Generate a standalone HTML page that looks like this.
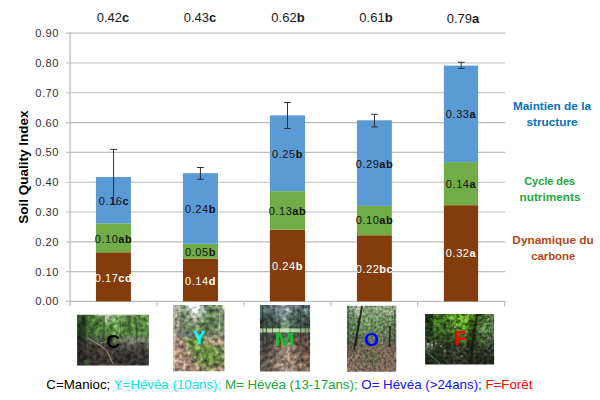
<!DOCTYPE html>
<html><head><meta charset="utf-8">
<style>
html,body{margin:0;padding:0;background:#fff;width:600px;height:400px;overflow:hidden}
svg{display:block}
text{font-family:"Liberation Sans",Arial,sans-serif}
.tk{font-size:11.2px;fill:#333;text-anchor:end;letter-spacing:0.45px}
.top{font-size:13px;fill:#1a1a1a;text-anchor:middle}
.in{font-size:11px;fill:#111;text-anchor:middle;letter-spacing:0.55px}
.inw{font-size:11px;fill:#fff;text-anchor:middle;letter-spacing:0.55px}
.b{font-weight:bold}
.rl{font-size:11.8px;font-weight:bold;text-anchor:middle}
.lg{font-size:13.3px}
</style></head><body>
<svg width="600" height="400" viewBox="0 0 600 400">
<defs>
  <filter id="pd" x="-10%" y="-10%" width="120%" height="120%"><feGaussianBlur stdDeviation="0.45"/></filter>
  <linearGradient id="mband" x1="0" x2="1" y1="0" y2="0"><stop offset="0" stop-color="#a8d0a0"/><stop offset="0.55" stop-color="#c4e4b8"/><stop offset="0.75" stop-color="#a0c898"/><stop offset="1" stop-color="#7a9c7a"/></linearGradient>
  <filter id="mb" x="-10%" y="-50%" width="120%" height="200%"><feGaussianBlur stdDeviation="0.7"/></filter>
<filter id="fC" x="0" y="0" width="100%" height="100%" color-interpolation-filters="sRGB">
  <feGaussianBlur in="SourceGraphic" stdDeviation="1.6" result="base"/>
  <feTurbulence type="fractalNoise" baseFrequency="0.22" numOctaves="2" seed="5" result="n"/>
  <feColorMatrix in="n" type="matrix" values="1 0 0 0 0  1 0 0 0 0  1 0 0 0 0  0 0 0 0 1" result="g"/>
  <feComposite in="base" in2="g" operator="arithmetic" k1="1.5" k2="0.25" k3="0" k4="0"/>
  <feGaussianBlur stdDeviation="0.55"/>
</filter>
<filter id="fY" x="0" y="0" width="100%" height="100%" color-interpolation-filters="sRGB">
  <feGaussianBlur in="SourceGraphic" stdDeviation="1.6" result="base"/>
  <feTurbulence type="fractalNoise" baseFrequency="0.22" numOctaves="2" seed="8" result="n"/>
  <feColorMatrix in="n" type="matrix" values="1 0 0 0 0  1 0 0 0 0  1 0 0 0 0  0 0 0 0 1" result="g"/>
  <feComposite in="base" in2="g" operator="arithmetic" k1="1.6" k2="0.19999999999999996" k3="0" k4="0"/>
  <feGaussianBlur stdDeviation="0.55"/>
</filter>
<filter id="fM" x="0" y="0" width="100%" height="100%" color-interpolation-filters="sRGB">
  <feGaussianBlur in="SourceGraphic" stdDeviation="1.6" result="base"/>
  <feTurbulence type="fractalNoise" baseFrequency="0.22" numOctaves="2" seed="2" result="n"/>
  <feColorMatrix in="n" type="matrix" values="1 0 0 0 0  1 0 0 0 0  1 0 0 0 0  0 0 0 0 1" result="g"/>
  <feComposite in="base" in2="g" operator="arithmetic" k1="1.6" k2="0.19999999999999996" k3="0" k4="0"/>
  <feGaussianBlur stdDeviation="0.55"/>
</filter>
<filter id="fO" x="0" y="0" width="100%" height="100%" color-interpolation-filters="sRGB">
  <feGaussianBlur in="SourceGraphic" stdDeviation="1.6" result="base"/>
  <feTurbulence type="fractalNoise" baseFrequency="0.38" numOctaves="2" seed="9" result="n"/>
  <feColorMatrix in="n" type="matrix" values="1 0 0 0 0  1 0 0 0 0  1 0 0 0 0  0 0 0 0 1" result="g"/>
  <feComposite in="base" in2="g" operator="arithmetic" k1="1.2" k2="0.4" k3="0" k4="0"/>
  <feGaussianBlur stdDeviation="0.55"/>
</filter>
<filter id="fF" x="0" y="0" width="100%" height="100%" color-interpolation-filters="sRGB">
  <feGaussianBlur in="SourceGraphic" stdDeviation="1.6" result="base"/>
  <feTurbulence type="fractalNoise" baseFrequency="0.3" numOctaves="2" seed="11" result="n"/>
  <feColorMatrix in="n" type="matrix" values="1 0 0 0 0  1 0 0 0 0  1 0 0 0 0  0 0 0 0 1" result="g"/>
  <feComposite in="base" in2="g" operator="arithmetic" k1="2.0" k2="0.0" k3="0" k4="0"/>
  <feGaussianBlur stdDeviation="0.55"/>
</filter>
<clipPath id="cC"><rect x="77.1" y="314.8" width="71.8" height="50.8"/></clipPath>
<clipPath id="cY"><rect x="173.15" y="305.1" width="51.3" height="66.2"/></clipPath>
<clipPath id="cM"><rect x="259.95" y="305.1" width="50.15" height="66.3"/></clipPath>
<clipPath id="cO"><rect x="346.95" y="305.65" width="49.3" height="66.15"/></clipPath>
<clipPath id="cF"><rect x="425.1" y="314.1" width="69" height="50.3"/></clipPath>
</defs>

<!-- gridlines -->
<g stroke="#bdbdbd" stroke-width="1.15">
  <line x1="66.2" x2="505.2" y1="33.18" y2="33.18"/>
  <line x1="66.2" x2="505.2" y1="62.98" y2="62.98"/>
  <line x1="66.2" x2="505.2" y1="92.79" y2="92.79"/>
  <line x1="66.2" x2="505.2" y1="122.59" y2="122.59"/>
  <line x1="66.2" x2="505.2" y1="152.40" y2="152.40"/>
  <line x1="66.2" x2="505.2" y1="182.21" y2="182.21"/>
  <line x1="66.2" x2="505.2" y1="212.01" y2="212.01"/>
  <line x1="66.2" x2="505.2" y1="241.81" y2="241.81"/>
  <line x1="66.2" x2="505.2" y1="271.62" y2="271.62"/>
  <line x1="66.2" x2="505.2" y1="301.43" y2="301.43"/>
  <line x1="70.1" x2="70.1" y1="32.6" y2="306.2" stroke-width="1.3"/>
  <line x1="157.00" x2="157.00" y1="301" y2="306.2"/>
  <line x1="243.90" x2="243.90" y1="301" y2="306.2"/>
  <line x1="330.80" x2="330.80" y1="301" y2="306.2"/>
  <line x1="417.70" x2="417.70" y1="301" y2="306.2"/>
  <line x1="504.60" x2="504.60" y1="301" y2="306.2"/>
</g>

<!-- tick labels -->
<g class="tk">
  <text x="58.9" y="37">0.90</text>
  <text x="58.9" y="67">0.80</text>
  <text x="58.9" y="96.5">0.70</text>
  <text x="58.9" y="126.5">0.60</text>
  <text x="58.9" y="156">0.50</text>
  <text x="58.9" y="186">0.40</text>
  <text x="58.9" y="216">0.30</text>
  <text x="58.9" y="245.5">0.20</text>
  <text x="58.9" y="275.5">0.10</text>
  <text x="58.9" y="305">0.00</text>
</g>

<!-- bars -->
<g>
  <rect x="95.95" y="252.3" width="34.98" height="49.12" fill="#843C0C"/>
  <rect x="95.95" y="223.35" width="34.98" height="28.95" fill="#70AD47"/>
  <rect x="95.95" y="177.0" width="34.98" height="46.35" fill="#5B9BD5"/>
  <rect x="182.93" y="258.7" width="35.04" height="42.72" fill="#843C0C"/>
  <rect x="182.93" y="243.8" width="35.04" height="14.90" fill="#70AD47"/>
  <rect x="182.93" y="173.18" width="35.04" height="70.62" fill="#5B9BD5"/>
  <rect x="269.88" y="229.75" width="35.15" height="71.67" fill="#843C0C"/>
  <rect x="269.88" y="191.18" width="35.15" height="38.57" fill="#70AD47"/>
  <rect x="269.88" y="115.35" width="35.15" height="75.83" fill="#5B9BD5"/>
  <rect x="356.93" y="235.25" width="34.94" height="66.17" fill="#843C0C"/>
  <rect x="356.93" y="205.88" width="34.94" height="29.37" fill="#70AD47"/>
  <rect x="356.93" y="120.3" width="34.94" height="85.58" fill="#5B9BD5"/>
  <rect x="443.88" y="205.18" width="34.22" height="96.24" fill="#843C0C"/>
  <rect x="443.88" y="162.1" width="34.22" height="43.08" fill="#70AD47"/>
  <rect x="443.88" y="65.6" width="34.22" height="96.50" fill="#5B9BD5"/>
</g>

<!-- error bars -->
<g stroke="#2a2a2a" stroke-width="0.95" fill="none">
  <path d="M113.55 149.35V204.3M110.15 149.35h6.8M110.15 204.3h6.8"/>
  <path d="M200.45 167.5V179.33M197.05 167.5h6.8M197.05 179.33h6.8"/>
  <path d="M287.50 102.53V128.47M284.10 102.53h6.8M284.10 128.47h6.8"/>
  <path d="M374.50 114.3V126.9M371.10 114.3h6.8M371.10 126.9h6.8"/>
  <path d="M461.20 62.3V68.4M457.80 62.3h6.8M457.80 68.4h6.8"/>
</g>

<!-- top labels -->
<g class="top">
  <text x="113" y="22">0.42<tspan class="b">c</tspan></text>
  <text x="200" y="22">0.43<tspan class="b">c</tspan></text>
  <text x="288" y="22">0.62<tspan class="b">b</tspan></text>
  <text x="376" y="22">0.61<tspan class="b">b</tspan></text>
  <text x="463" y="23.3">0.79<tspan class="b">a</tspan></text>
</g>

<!-- in-bar labels -->
<g class="in">
  <text x="114" y="204.5">0.16<tspan class="b">c</tspan></text>
  <text x="113.5" y="242.5">0.10<tspan class="b">ab</tspan></text>
  <text x="200.5" y="212.5">0.24<tspan class="b">b</tspan></text>
  <text x="200.5" y="255.5">0.05<tspan class="b">b</tspan></text>
  <text x="287.5" y="158">0.25<tspan class="b">b</tspan></text>
  <text x="287.5" y="214.8">0.13<tspan class="b">ab</tspan></text>
  <text x="374.5" y="167.7">0.29<tspan class="b">ab</tspan></text>
  <text x="374.5" y="224.3">0.10<tspan class="b">ab</tspan></text>
  <text x="461" y="118.4">0.33<tspan class="b">a</tspan></text>
  <text x="461" y="187.5">0.14<tspan class="b">a</tspan></text>
</g>
<g class="inw">
  <text x="113.5" y="281.5">0.17<tspan class="b">cd</tspan></text>
  <text x="200.5" y="284.7">0.14<tspan class="b">d</tspan></text>
  <text x="287.5" y="269.5">0.24<tspan class="b">b</tspan></text>
  <text x="374.5" y="273.3">0.22<tspan class="b">bc</tspan></text>
  <text x="461" y="257.4">0.32<tspan class="b">a</tspan></text>
</g>

<!-- axis title -->
<text transform="translate(27.5,167) rotate(-90)" text-anchor="middle" font-size="13.5" font-weight="bold" fill="#000">Soil Quality Index</text>

<!-- right labels -->
<g class="rl">
  <text x="552" y="110" fill="#0070C0">Maintien de la</text>
  <text x="552" y="125.8" fill="#0070C0">structure</text>
  <text x="549.7" y="185.3" fill="#20A73A" textLength="51" lengthAdjust="spacingAndGlyphs">Cycle des</text>
  <text x="550" y="200.8" fill="#20A73A">nutriments</text>
  <text x="553" y="243.7" fill="#B5470F">Dynamique du</text>
  <text x="553.2" y="259.7" fill="#B5470F" textLength="44" lengthAdjust="spacingAndGlyphs">carbone</text>
</g>

<!-- photos -->
<g clip-path="url(#cC)">
<g filter="url(#fC)">
<rect x="72.1" y="309.8" width="14.27" height="12.56" fill="#2c4627"/>
<rect x="86.07" y="309.8" width="9.28" height="12.56" fill="#446a33"/>
<rect x="95.05" y="309.8" width="9.27" height="12.56" fill="#588544"/>
<rect x="104.02" y="309.8" width="9.28" height="12.56" fill="#a5bb96"/>
<rect x="113.0" y="309.8" width="9.27" height="12.56" fill="#699a54"/>
<rect x="121.97" y="309.8" width="9.27" height="12.56" fill="#558242"/>
<rect x="130.95" y="309.8" width="9.27" height="12.56" fill="#5a8746"/>
<rect x="139.92" y="309.8" width="14.27" height="12.56" fill="#588544"/>
<rect x="72.1" y="322.06" width="14.27" height="7.56" fill="#273e23"/>
<rect x="86.07" y="322.06" width="9.28" height="7.56" fill="#3f6531"/>
<rect x="95.05" y="322.06" width="9.27" height="7.56" fill="#517e3e"/>
<rect x="104.02" y="322.06" width="9.28" height="7.56" fill="#5c8d48"/>
<rect x="113.0" y="322.06" width="9.27" height="7.56" fill="#6ea356"/>
<rect x="121.97" y="322.06" width="9.27" height="7.56" fill="#4f7c3e"/>
<rect x="130.95" y="322.06" width="9.27" height="7.56" fill="#557f3f"/>
<rect x="139.92" y="322.06" width="14.27" height="7.56" fill="#5e8c4a"/>
<rect x="72.1" y="329.31" width="14.27" height="7.56" fill="#253921"/>
<rect x="86.07" y="329.31" width="9.28" height="7.56" fill="#486a35"/>
<rect x="95.05" y="329.31" width="9.27" height="7.56" fill="#4d753a"/>
<rect x="104.02" y="329.31" width="9.28" height="7.56" fill="#4f773c"/>
<rect x="113.0" y="329.31" width="9.27" height="7.56" fill="#679851"/>
<rect x="121.97" y="329.31" width="9.27" height="7.56" fill="#4d773c"/>
<rect x="130.95" y="329.31" width="9.27" height="7.56" fill="#517a3e"/>
<rect x="139.92" y="329.31" width="14.27" height="7.56" fill="#5a8544"/>
<rect x="72.1" y="336.57" width="14.27" height="7.56" fill="#283224"/>
<rect x="86.07" y="336.57" width="9.28" height="7.56" fill="#46503c"/>
<rect x="95.05" y="336.57" width="9.27" height="7.56" fill="#425438"/>
<rect x="104.02" y="336.57" width="9.28" height="7.56" fill="#3c5034"/>
<rect x="113.0" y="336.57" width="9.27" height="7.56" fill="#60724f"/>
<rect x="121.97" y="336.57" width="9.27" height="7.56" fill="#76826c"/>
<rect x="130.95" y="336.57" width="9.27" height="7.56" fill="#787e70"/>
<rect x="139.92" y="336.57" width="14.27" height="7.56" fill="#707866"/>
<rect x="72.1" y="343.83" width="14.27" height="7.56" fill="#2e2c2a"/>
<rect x="86.07" y="343.83" width="9.28" height="7.56" fill="#3e3c34"/>
<rect x="95.05" y="343.83" width="9.27" height="7.56" fill="#464038"/>
<rect x="104.02" y="343.83" width="9.28" height="7.56" fill="#3a3632"/>
<rect x="113.0" y="343.83" width="9.27" height="7.56" fill="#403e3a"/>
<rect x="121.97" y="343.83" width="9.27" height="7.56" fill="#464640"/>
<rect x="130.95" y="343.83" width="9.27" height="7.56" fill="#4a4842"/>
<rect x="139.92" y="343.83" width="14.27" height="7.56" fill="#48463e"/>
<rect x="72.1" y="351.09" width="14.27" height="7.56" fill="#2c2a2a"/>
<rect x="86.07" y="351.09" width="9.28" height="7.56" fill="#363230"/>
<rect x="95.05" y="351.09" width="9.27" height="7.56" fill="#403a34"/>
<rect x="104.02" y="351.09" width="9.28" height="7.56" fill="#464038"/>
<rect x="113.0" y="351.09" width="9.27" height="7.56" fill="#383432"/>
<rect x="121.97" y="351.09" width="9.27" height="7.56" fill="#363432"/>
<rect x="130.95" y="351.09" width="9.27" height="7.56" fill="#3c3a36"/>
<rect x="139.92" y="351.09" width="14.27" height="7.56" fill="#3a3834"/>
<rect x="72.1" y="358.34" width="14.27" height="12.56" fill="#2e2c2c"/>
<rect x="86.07" y="358.34" width="9.28" height="12.56" fill="#32302e"/>
<rect x="95.05" y="358.34" width="9.27" height="12.56" fill="#383432"/>
<rect x="104.02" y="358.34" width="9.28" height="12.56" fill="#3e3834"/>
<rect x="113.0" y="358.34" width="9.27" height="12.56" fill="#363230"/>
<rect x="121.97" y="358.34" width="9.27" height="12.56" fill="#32302e"/>
<rect x="130.95" y="358.34" width="9.27" height="12.56" fill="#343230"/>
<rect x="139.92" y="358.34" width="14.27" height="12.56" fill="#32302e"/>
</g>
<g filter="url(#pd)">
<path d="M88 338 Q96 343 101 346 T108 353 T113 364" stroke="#aaa08a" stroke-width="1.1" fill="none" opacity="0.7"/>
<path d="M101 346 L101.5 331" stroke="#9a9480" stroke-width="0.9" fill="none" opacity="0.5"/>
<path d="M101 343 L108 341" stroke="#a89c88" stroke-width="1" fill="none" opacity="0.7"/>
<path d="M104 316 L104 340" stroke="#3a4a2c" stroke-width="1.5" opacity="0.6"/>
<path d="M136 318 L137 345" stroke="#3c4630" stroke-width="1.4" opacity="0.6"/>
<path d="M120 316 L121 335" stroke="#44582f" stroke-width="1.2" opacity="0.5"/>
<ellipse cx="86" cy="362" rx="2.5" ry="2" fill="#3c7a38" opacity="0.6"/>
<path d="M96 354 L95 366" stroke="#7a3038" stroke-width="1.1" opacity="0.55"/>
<rect x="95" y="314" width="40" height="2.2" fill="#c8d4c0" opacity="0.45"/>
</g>
</g>
<g clip-path="url(#cY)">
<g filter="url(#fY)">
<rect x="168.15" y="300.1" width="11.71" height="11.92" fill="#b2b2a2"/>
<rect x="179.56" y="300.1" width="6.71" height="11.92" fill="#819176"/>
<rect x="185.97" y="300.1" width="6.71" height="11.92" fill="#b7c4b7"/>
<rect x="192.39" y="300.1" width="6.71" height="11.92" fill="#f3f8f3"/>
<rect x="198.8" y="300.1" width="6.71" height="11.92" fill="#b2bdac"/>
<rect x="205.21" y="300.1" width="6.71" height="11.92" fill="#76916c"/>
<rect x="211.62" y="300.1" width="6.71" height="11.92" fill="#6c8761"/>
<rect x="218.04" y="300.1" width="11.71" height="11.92" fill="#97a78c"/>
<rect x="168.15" y="311.72" width="11.71" height="6.92" fill="#a2a291"/>
<rect x="179.56" y="311.72" width="6.71" height="6.92" fill="#768a6c"/>
<rect x="185.97" y="311.72" width="6.71" height="6.92" fill="#97a78e"/>
<rect x="192.39" y="311.72" width="6.71" height="6.92" fill="#dde4dd"/>
<rect x="198.8" y="311.72" width="6.71" height="6.92" fill="#879c7c"/>
<rect x="205.21" y="311.72" width="6.71" height="6.92" fill="#66835b"/>
<rect x="211.62" y="311.72" width="6.71" height="6.92" fill="#66815b"/>
<rect x="218.04" y="311.72" width="11.71" height="6.92" fill="#7c9171"/>
<rect x="168.15" y="318.34" width="11.71" height="6.92" fill="#979787"/>
<rect x="179.56" y="318.34" width="6.71" height="6.92" fill="#718366"/>
<rect x="185.97" y="318.34" width="6.71" height="6.92" fill="#748a66"/>
<rect x="192.39" y="318.34" width="6.71" height="6.92" fill="#a2ac97"/>
<rect x="198.8" y="318.34" width="6.71" height="6.92" fill="#718c61"/>
<rect x="205.21" y="318.34" width="6.71" height="6.92" fill="#617f56"/>
<rect x="211.62" y="318.34" width="6.71" height="6.92" fill="#637f58"/>
<rect x="218.04" y="318.34" width="11.71" height="6.92" fill="#718766"/>
<rect x="168.15" y="324.96" width="11.71" height="6.92" fill="#919181"/>
<rect x="179.56" y="324.96" width="6.71" height="6.92" fill="#6c7f61"/>
<rect x="185.97" y="324.96" width="6.71" height="6.92" fill="#6c835f"/>
<rect x="192.39" y="324.96" width="6.71" height="6.92" fill="#69815b"/>
<rect x="198.8" y="324.96" width="6.71" height="6.92" fill="#668358"/>
<rect x="205.21" y="324.96" width="6.71" height="6.92" fill="#637f56"/>
<rect x="211.62" y="324.96" width="6.71" height="6.92" fill="#69815b"/>
<rect x="218.04" y="324.96" width="11.71" height="6.92" fill="#718763"/>
<rect x="168.15" y="331.58" width="11.71" height="6.92" fill="#968c7d"/>
<rect x="179.56" y="331.58" width="6.71" height="6.92" fill="#787d73"/>
<rect x="185.97" y="331.58" width="6.71" height="6.92" fill="#738273"/>
<rect x="192.39" y="331.58" width="6.71" height="6.92" fill="#6e875f"/>
<rect x="198.8" y="331.58" width="6.71" height="6.92" fill="#73875f"/>
<rect x="205.21" y="331.58" width="6.71" height="6.92" fill="#7d8769"/>
<rect x="211.62" y="331.58" width="6.71" height="6.92" fill="#82876e"/>
<rect x="218.04" y="331.58" width="11.71" height="6.92" fill="#878a73"/>
<rect x="168.15" y="338.2" width="11.71" height="6.92" fill="#a58c7d"/>
<rect x="179.56" y="338.2" width="6.71" height="6.92" fill="#a08a78"/>
<rect x="185.97" y="338.2" width="6.71" height="6.92" fill="#769250"/>
<rect x="192.39" y="338.2" width="6.71" height="6.92" fill="#70924a"/>
<rect x="198.8" y="338.2" width="6.71" height="6.92" fill="#788f55"/>
<rect x="205.21" y="338.2" width="6.71" height="6.92" fill="#a08c76"/>
<rect x="211.62" y="338.2" width="6.71" height="6.92" fill="#a88e7a"/>
<rect x="218.04" y="338.2" width="11.71" height="6.92" fill="#a58c78"/>
<rect x="168.15" y="344.82" width="11.71" height="6.92" fill="#af9180"/>
<rect x="179.56" y="344.82" width="6.71" height="6.92" fill="#aa8c7a"/>
<rect x="185.97" y="344.82" width="6.71" height="6.92" fill="#7d8f58"/>
<rect x="192.39" y="344.82" width="6.71" height="6.92" fill="#6e9046"/>
<rect x="198.8" y="344.82" width="6.71" height="6.92" fill="#6c8f44"/>
<rect x="205.21" y="344.82" width="6.71" height="6.92" fill="#73924a"/>
<rect x="211.62" y="344.82" width="6.71" height="6.92" fill="#7d9254"/>
<rect x="218.04" y="344.82" width="11.71" height="6.92" fill="#878f61"/>
<rect x="168.15" y="351.44" width="11.71" height="6.92" fill="#b29482"/>
<rect x="179.56" y="351.44" width="6.71" height="6.92" fill="#ac8e7c"/>
<rect x="185.97" y="351.44" width="6.71" height="6.92" fill="#968c70"/>
<rect x="192.39" y="351.44" width="6.71" height="6.92" fill="#728f4a"/>
<rect x="198.8" y="351.44" width="6.71" height="6.92" fill="#6c8d44"/>
<rect x="205.21" y="351.44" width="6.71" height="6.92" fill="#6c8f44"/>
<rect x="211.62" y="351.44" width="6.71" height="6.92" fill="#6e9046"/>
<rect x="218.04" y="351.44" width="11.71" height="6.92" fill="#74904d"/>
<rect x="168.15" y="358.06" width="11.71" height="6.92" fill="#af9180"/>
<rect x="179.56" y="358.06" width="6.71" height="6.92" fill="#ac8e7d"/>
<rect x="185.97" y="358.06" width="6.71" height="6.92" fill="#a58a76"/>
<rect x="192.39" y="358.06" width="6.71" height="6.92" fill="#878c5f"/>
<rect x="198.8" y="358.06" width="6.71" height="6.92" fill="#728c4a"/>
<rect x="205.21" y="358.06" width="6.71" height="6.92" fill="#6e8c46"/>
<rect x="211.62" y="358.06" width="6.71" height="6.92" fill="#708e48"/>
<rect x="218.04" y="358.06" width="11.71" height="6.92" fill="#788c50"/>
<rect x="168.15" y="364.68" width="11.71" height="11.92" fill="#ac8e7e"/>
<rect x="179.56" y="364.68" width="6.71" height="11.92" fill="#aa8c7c"/>
<rect x="185.97" y="364.68" width="6.71" height="11.92" fill="#a68a78"/>
<rect x="192.39" y="364.68" width="6.71" height="11.92" fill="#a08773"/>
<rect x="198.8" y="364.68" width="6.71" height="11.92" fill="#918764"/>
<rect x="205.21" y="364.68" width="6.71" height="11.92" fill="#82875a"/>
<rect x="211.62" y="364.68" width="6.71" height="11.92" fill="#8c8764"/>
<rect x="218.04" y="364.68" width="11.71" height="11.92" fill="#96846c"/>
</g>
<g filter="url(#pd)">
<path d="M174 305 L174 372" stroke="#c8c2b6" stroke-width="1.5" opacity="0.8"/>
<path d="M181 312 L181 336" stroke="#6e6a58" stroke-width="1" opacity="0.6"/>
<path d="M220 310 L219 338" stroke="#c8c8bc" stroke-width="1" opacity="0.6"/>
<path d="M210 320 L210 338" stroke="#686a52" stroke-width="1" opacity="0.5"/>
<path d="M178 334 L200 334" stroke="#6f8aa0" stroke-width="1.5" opacity="0.35"/>
</g>
</g>
<g clip-path="url(#cM)">
<g filter="url(#fM)">
<rect x="254.95" y="300.1" width="12.46" height="11.93" fill="#506464"/>
<rect x="267.11" y="300.1" width="7.46" height="11.93" fill="#5f7073"/>
<rect x="274.28" y="300.1" width="7.46" height="11.93" fill="#829498"/>
<rect x="281.44" y="300.1" width="7.46" height="11.93" fill="#96a5aa"/>
<rect x="288.61" y="300.1" width="7.46" height="11.93" fill="#697a7c"/>
<rect x="295.77" y="300.1" width="7.46" height="11.93" fill="#5a6c6c"/>
<rect x="302.94" y="300.1" width="12.46" height="11.93" fill="#647476"/>
<rect x="254.95" y="311.73" width="12.46" height="6.93" fill="#425654"/>
<rect x="267.11" y="311.73" width="7.46" height="6.93" fill="#4e6260"/>
<rect x="274.28" y="311.73" width="7.46" height="6.93" fill="#6e8284"/>
<rect x="281.44" y="311.73" width="7.46" height="6.93" fill="#7d9191"/>
<rect x="288.61" y="311.73" width="7.46" height="6.93" fill="#607470"/>
<rect x="295.77" y="311.73" width="7.46" height="6.93" fill="#4c605c"/>
<rect x="302.94" y="311.73" width="12.46" height="6.93" fill="#526460"/>
<rect x="254.95" y="318.36" width="12.46" height="6.93" fill="#34463e"/>
<rect x="267.11" y="318.36" width="7.46" height="6.93" fill="#3a4e46"/>
<rect x="274.28" y="318.36" width="7.46" height="6.93" fill="#4b6258"/>
<rect x="281.44" y="318.36" width="7.46" height="6.93" fill="#829b8c"/>
<rect x="288.61" y="318.36" width="7.46" height="6.93" fill="#4e6458"/>
<rect x="295.77" y="318.36" width="7.46" height="6.93" fill="#3a4c44"/>
<rect x="302.94" y="318.36" width="12.46" height="6.93" fill="#405048"/>
<rect x="254.95" y="324.99" width="12.46" height="6.93" fill="#374b3e"/>
<rect x="267.11" y="324.99" width="7.46" height="6.93" fill="#3e5446"/>
<rect x="274.28" y="324.99" width="7.46" height="6.93" fill="#465f50"/>
<rect x="281.44" y="324.99" width="7.46" height="6.93" fill="#6e8c6e"/>
<rect x="288.61" y="324.99" width="7.46" height="6.93" fill="#465c4e"/>
<rect x="295.77" y="324.99" width="7.46" height="6.93" fill="#3a4e42"/>
<rect x="302.94" y="324.99" width="12.46" height="6.93" fill="#3c4e44"/>
<rect x="254.95" y="331.62" width="12.46" height="6.93" fill="#46443e"/>
<rect x="267.11" y="331.62" width="7.46" height="6.93" fill="#4c4842"/>
<rect x="274.28" y="331.62" width="7.46" height="6.93" fill="#565048"/>
<rect x="281.44" y="331.62" width="7.46" height="6.93" fill="#5c544c"/>
<rect x="288.61" y="331.62" width="7.46" height="6.93" fill="#564e46"/>
<rect x="295.77" y="331.62" width="7.46" height="6.93" fill="#504a42"/>
<rect x="302.94" y="331.62" width="12.46" height="6.93" fill="#524a44"/>
<rect x="254.95" y="338.25" width="12.46" height="6.93" fill="#484642"/>
<rect x="267.11" y="338.25" width="7.46" height="6.93" fill="#504c46"/>
<rect x="274.28" y="338.25" width="7.46" height="6.93" fill="#6e6256"/>
<rect x="281.44" y="338.25" width="7.46" height="6.93" fill="#877464"/>
<rect x="288.61" y="338.25" width="7.46" height="6.93" fill="#766658"/>
<rect x="295.77" y="338.25" width="7.46" height="6.93" fill="#605046"/>
<rect x="302.94" y="338.25" width="12.46" height="6.93" fill="#625046"/>
<rect x="254.95" y="344.88" width="12.46" height="6.93" fill="#4c4844"/>
<rect x="267.11" y="344.88" width="7.46" height="6.93" fill="#585048"/>
<rect x="274.28" y="344.88" width="7.46" height="6.93" fill="#827062"/>
<rect x="281.44" y="344.88" width="7.46" height="6.93" fill="#94806e"/>
<rect x="288.61" y="344.88" width="7.46" height="6.93" fill="#8c7868"/>
<rect x="295.77" y="344.88" width="7.46" height="6.93" fill="#68564a"/>
<rect x="302.94" y="344.88" width="12.46" height="6.93" fill="#645046"/>
<rect x="254.95" y="351.51" width="12.46" height="6.93" fill="#504c46"/>
<rect x="267.11" y="351.51" width="7.46" height="6.93" fill="#645a50"/>
<rect x="274.28" y="351.51" width="7.46" height="6.93" fill="#8c7a6a"/>
<rect x="281.44" y="351.51" width="7.46" height="6.93" fill="#968272"/>
<rect x="288.61" y="351.51" width="7.46" height="6.93" fill="#927e6e"/>
<rect x="295.77" y="351.51" width="7.46" height="6.93" fill="#786456"/>
<rect x="302.94" y="351.51" width="12.46" height="6.93" fill="#6c584c"/>
<rect x="254.95" y="358.14" width="12.46" height="6.93" fill="#58524a"/>
<rect x="267.11" y="358.14" width="7.46" height="6.93" fill="#736458"/>
<rect x="274.28" y="358.14" width="7.46" height="6.93" fill="#948070"/>
<rect x="281.44" y="358.14" width="7.46" height="6.93" fill="#988474"/>
<rect x="288.61" y="358.14" width="7.46" height="6.93" fill="#948070"/>
<rect x="295.77" y="358.14" width="7.46" height="6.93" fill="#847062"/>
<rect x="302.94" y="358.14" width="12.46" height="6.93" fill="#766254"/>
<rect x="254.95" y="364.77" width="12.46" height="11.93" fill="#5c564e"/>
<rect x="267.11" y="364.77" width="7.46" height="11.93" fill="#78685c"/>
<rect x="274.28" y="364.77" width="7.46" height="11.93" fill="#968272"/>
<rect x="281.44" y="364.77" width="7.46" height="11.93" fill="#9a8676"/>
<rect x="288.61" y="364.77" width="7.46" height="11.93" fill="#968272"/>
<rect x="295.77" y="364.77" width="7.46" height="11.93" fill="#887464"/>
<rect x="302.94" y="364.77" width="12.46" height="11.93" fill="#7a6658"/>
</g>
<g filter="url(#pd)">
<rect x="258" y="328.4" width="54" height="4" fill="url(#mband)" filter="url(#mb)"/>
<path d="M262.5 306 L263 348" stroke="#1e2a22" stroke-width="1.2" opacity="0.55"/>
<path d="M266 318 L267 350" stroke="#1e2a22" stroke-width="1.3" opacity="0.6"/>
<path d="M272 315 L273 342" stroke="#26302a" stroke-width="1.1" opacity="0.5"/>
<path d="M279 312 L279.5 338" stroke="#26302a" stroke-width="0.9" opacity="0.4"/>
<path d="M290 318 L290 336" stroke="#303a32" stroke-width="0.9" opacity="0.45"/>
<path d="M300.5 312 L301 346" stroke="#222c26" stroke-width="1.2" opacity="0.6"/>
<path d="M305 315 L305.5 348" stroke="#2a302a" stroke-width="1" opacity="0.5"/>
<path d="M308.5 306 L308.5 350" stroke="#2a302a" stroke-width="0.9" opacity="0.4"/>
</g>
</g>
<g clip-path="url(#cO)">
<g filter="url(#fO)">
<rect x="341.95" y="300.65" width="13.52" height="14.75" fill="#7f947a"/>
<rect x="355.17" y="300.65" width="8.52" height="14.75" fill="#aebea6"/>
<rect x="363.38" y="300.65" width="8.52" height="14.75" fill="#799670"/>
<rect x="371.6" y="300.65" width="8.52" height="14.75" fill="#849f77"/>
<rect x="379.82" y="300.65" width="8.52" height="14.75" fill="#8fa482"/>
<rect x="388.03" y="300.65" width="13.52" height="14.75" fill="#94a787"/>
<rect x="341.95" y="315.1" width="13.52" height="9.75" fill="#64815b"/>
<rect x="355.17" y="315.1" width="8.52" height="9.75" fill="#749468"/>
<rect x="363.38" y="315.1" width="8.52" height="9.75" fill="#7d9c6e"/>
<rect x="371.6" y="315.1" width="8.52" height="9.75" fill="#769868"/>
<rect x="379.82" y="315.1" width="8.52" height="9.75" fill="#6f9062"/>
<rect x="388.03" y="315.1" width="13.52" height="9.75" fill="#6a875d"/>
<rect x="341.95" y="324.55" width="13.52" height="9.75" fill="#59764f"/>
<rect x="355.17" y="324.55" width="8.52" height="9.75" fill="#658557"/>
<rect x="363.38" y="324.55" width="8.52" height="9.75" fill="#6e8e5d"/>
<rect x="371.6" y="324.55" width="8.52" height="9.75" fill="#6a895b"/>
<rect x="379.82" y="324.55" width="8.52" height="9.75" fill="#658357"/>
<rect x="388.03" y="324.55" width="13.52" height="9.75" fill="#5f7853"/>
<rect x="341.95" y="334.0" width="13.52" height="9.75" fill="#56684c"/>
<rect x="355.17" y="334.0" width="8.52" height="9.75" fill="#647656"/>
<rect x="363.38" y="334.0" width="8.52" height="9.75" fill="#6e7e5c"/>
<rect x="371.6" y="334.0" width="8.52" height="9.75" fill="#707e60"/>
<rect x="379.82" y="334.0" width="8.52" height="9.75" fill="#687858"/>
<rect x="388.03" y="334.0" width="13.52" height="9.75" fill="#606c52"/>
<rect x="341.95" y="343.45" width="13.52" height="9.75" fill="#675f4d"/>
<rect x="355.17" y="343.45" width="8.52" height="9.75" fill="#756756"/>
<rect x="363.38" y="343.45" width="8.52" height="9.75" fill="#726954"/>
<rect x="371.6" y="343.45" width="8.52" height="9.75" fill="#796b59"/>
<rect x="379.82" y="343.45" width="8.52" height="9.75" fill="#776957"/>
<rect x="388.03" y="343.45" width="13.52" height="9.75" fill="#6e6050"/>
<rect x="341.95" y="352.9" width="13.52" height="9.75" fill="#7b6759"/>
<rect x="355.17" y="352.9" width="8.52" height="9.75" fill="#7e6b5b"/>
<rect x="363.38" y="352.9" width="8.52" height="9.75" fill="#67674d"/>
<rect x="371.6" y="352.9" width="8.52" height="9.75" fill="#616649"/>
<rect x="379.82" y="352.9" width="8.52" height="9.75" fill="#7d6959"/>
<rect x="388.03" y="352.9" width="13.52" height="9.75" fill="#7b6759"/>
<rect x="341.95" y="362.35" width="13.52" height="14.75" fill="#806b5c"/>
<rect x="355.17" y="362.35" width="8.52" height="14.75" fill="#826d5c"/>
<rect x="363.38" y="362.35" width="8.52" height="14.75" fill="#7b6959"/>
<rect x="371.6" y="362.35" width="8.52" height="14.75" fill="#776757"/>
<rect x="379.82" y="362.35" width="8.52" height="14.75" fill="#826d5c"/>
<rect x="388.03" y="362.35" width="13.52" height="14.75" fill="#7e695b"/>
</g>
<g filter="url(#pd)">
<path d="M362 306 Q358 330 354 350" stroke="#181c12" stroke-width="1.9" fill="none" opacity="0.9"/>
<path d="M358.5 318 L356.5 346" stroke="#20261a" stroke-width="1.3" opacity="0.7"/>
<path d="M390 326 L389.5 347" stroke="#1c2016" stroke-width="1.6" opacity="0.85"/>
<path d="M384 322 L384 345" stroke="#2a3020" stroke-width="0.9" opacity="0.45"/>
<path d="M394.5 310 L394.5 345" stroke="#2a3020" stroke-width="1" opacity="0.5"/>
<path d="M348 306 L348.5 350" stroke="#2a3020" stroke-width="1.2" opacity="0.55"/>
<path d="M372 320 L372 345" stroke="#3a4530" stroke-width="0.9" opacity="0.4"/>
</g>
</g>
<g clip-path="url(#cF)">
<g filter="url(#fF)">
<rect x="420.1" y="309.1" width="13.93" height="12.49" fill="#1e3214"/>
<rect x="433.73" y="309.1" width="8.93" height="12.49" fill="#3c6e1e"/>
<rect x="442.35" y="309.1" width="8.93" height="12.49" fill="#467823"/>
<rect x="450.98" y="309.1" width="8.93" height="12.49" fill="#5a9628"/>
<rect x="459.6" y="309.1" width="8.93" height="12.49" fill="#6eaa2d"/>
<rect x="468.23" y="309.1" width="8.93" height="12.49" fill="#466e1e"/>
<rect x="476.85" y="309.1" width="8.93" height="12.49" fill="#3c5a28"/>
<rect x="485.48" y="309.1" width="13.93" height="12.49" fill="#5a7846"/>
<rect x="420.1" y="321.29" width="13.93" height="7.49" fill="#233c19"/>
<rect x="433.73" y="321.29" width="8.93" height="7.49" fill="#467828"/>
<rect x="442.35" y="321.29" width="8.93" height="7.49" fill="#3c6923"/>
<rect x="450.98" y="321.29" width="8.93" height="7.49" fill="#508728"/>
<rect x="459.6" y="321.29" width="8.93" height="7.49" fill="#64a02d"/>
<rect x="468.23" y="321.29" width="8.93" height="7.49" fill="#325019"/>
<rect x="476.85" y="321.29" width="8.93" height="7.49" fill="#50783c"/>
<rect x="485.48" y="321.29" width="13.93" height="7.49" fill="#5a7850"/>
<rect x="420.1" y="328.47" width="13.93" height="7.49" fill="#1e3719"/>
<rect x="433.73" y="328.47" width="8.93" height="7.49" fill="#3c6428"/>
<rect x="442.35" y="328.47" width="8.93" height="7.49" fill="#375a23"/>
<rect x="450.98" y="328.47" width="8.93" height="7.49" fill="#467828"/>
<rect x="459.6" y="328.47" width="8.93" height="7.49" fill="#50822d"/>
<rect x="468.23" y="328.47" width="8.93" height="7.49" fill="#283c19"/>
<rect x="476.85" y="328.47" width="8.93" height="7.49" fill="#4b6e3c"/>
<rect x="485.48" y="328.47" width="13.93" height="7.49" fill="#55734b"/>
<rect x="420.1" y="335.66" width="13.93" height="7.49" fill="#283c23"/>
<rect x="433.73" y="335.66" width="8.93" height="7.49" fill="#375028"/>
<rect x="442.35" y="335.66" width="8.93" height="7.49" fill="#2d4123"/>
<rect x="450.98" y="335.66" width="8.93" height="7.49" fill="#375523"/>
<rect x="459.6" y="335.66" width="8.93" height="7.49" fill="#416428"/>
<rect x="468.23" y="335.66" width="8.93" height="7.49" fill="#233219"/>
<rect x="476.85" y="335.66" width="8.93" height="7.49" fill="#465f37"/>
<rect x="485.48" y="335.66" width="13.93" height="7.49" fill="#465f3c"/>
<rect x="420.1" y="342.84" width="13.93" height="7.49" fill="#4f584f"/>
<rect x="433.73" y="342.84" width="8.93" height="7.49" fill="#343d30"/>
<rect x="442.35" y="342.84" width="8.93" height="7.49" fill="#273023"/>
<rect x="450.98" y="342.84" width="8.93" height="7.49" fill="#303927"/>
<rect x="459.6" y="342.84" width="8.93" height="7.49" fill="#344227"/>
<rect x="468.23" y="342.84" width="8.93" height="7.49" fill="#23271a"/>
<rect x="476.85" y="342.84" width="8.93" height="7.49" fill="#34422c"/>
<rect x="485.48" y="342.84" width="13.93" height="7.49" fill="#344230"/>
<rect x="420.1" y="350.03" width="13.93" height="7.49" fill="#2c3427"/>
<rect x="433.73" y="350.03" width="8.93" height="7.49" fill="#273023"/>
<rect x="442.35" y="350.03" width="8.93" height="7.49" fill="#303427"/>
<rect x="450.98" y="350.03" width="8.93" height="7.49" fill="#393d30"/>
<rect x="459.6" y="350.03" width="8.93" height="7.49" fill="#34392c"/>
<rect x="468.23" y="350.03" width="8.93" height="7.49" fill="#272c1e"/>
<rect x="476.85" y="350.03" width="8.93" height="7.49" fill="#303427"/>
<rect x="485.48" y="350.03" width="13.93" height="7.49" fill="#2c3427"/>
<rect x="420.1" y="357.21" width="13.93" height="12.49" fill="#1e271a"/>
<rect x="433.73" y="357.21" width="8.93" height="12.49" fill="#232c1e"/>
<rect x="442.35" y="357.21" width="8.93" height="12.49" fill="#2c3027"/>
<rect x="450.98" y="357.21" width="8.93" height="12.49" fill="#30342c"/>
<rect x="459.6" y="357.21" width="8.93" height="12.49" fill="#2c3027"/>
<rect x="468.23" y="357.21" width="8.93" height="12.49" fill="#23271e"/>
<rect x="476.85" y="357.21" width="8.93" height="12.49" fill="#272c23"/>
<rect x="485.48" y="357.21" width="13.93" height="12.49" fill="#232a21"/>
</g>
<g filter="url(#pd)">
<path d="M477 314 Q474 330 473 340 T471 364" stroke="#141a0e" stroke-width="2" fill="none" opacity="0.8"/>
<path d="M428 353 Q436 360 440 364" stroke="#6a8a5a" stroke-width="1.2" fill="none" opacity="0.6"/>
<path d="M430 318 Q438 326 446 332" stroke="#4a8a30" stroke-width="1.6" fill="none" opacity="0.6"/>
<circle cx="428" cy="344" r="1.3" fill="#c8d0c8" opacity="0.7"/>
<circle cx="432" cy="345" r="1.1" fill="#d0d8d0" opacity="0.7"/>
<circle cx="436" cy="343.5" r="1" fill="#c0c8c0" opacity="0.6"/>
<circle cx="441" cy="346" r="1" fill="#b8c0b8" opacity="0.6"/>
<circle cx="455" cy="327" r="1.2" fill="#d0d8c8" opacity="0.6"/>
<circle cx="445" cy="351" r="1" fill="#a8b0a8" opacity="0.6"/>
<circle cx="462" cy="356" r="1" fill="#a8b0a0" opacity="0.5"/>
<circle cx="483" cy="330" r="1.2" fill="#c8d0b8" opacity="0.6"/>
<circle cx="488" cy="338" r="1" fill="#b8c8b0" opacity="0.5"/>
<circle cx="466" cy="320" r="2" fill="#a0d050" opacity="0.7"/>
<circle cx="452" cy="318" r="2" fill="#98c848" opacity="0.7"/>
</g>
</g>

<!-- photo letters -->
<g font-weight="bold" font-size="19" text-anchor="middle">
  <text x="113" y="347.8" fill="#000">C</text>
  <text x="199.4" y="344.4" fill="#00FFFF">Y</text>
  <text x="284.8" y="345.6" fill="#1FB43C" textLength="20.5" lengthAdjust="spacingAndGlyphs">M</text>
  <text x="371.5" y="346.3" fill="#0000FF">O</text>
  <text x="460" y="345" fill="#FF0000" font-size="20.5">F</text>
</g>

<!-- legend -->
<text class="lg" x="46.3" y="389.2"><tspan fill="#000">C=Manioc; </tspan><tspan fill="#00E8F0">Y=Hévéa (10ans); </tspan><tspan fill="#20A73A">M= Hévéa (13-17ans); </tspan><tspan fill="#1010FF">O= Hévéa (&gt;24ans); </tspan><tspan fill="#FF0000">F=Forêt</tspan></text>
</svg>
</body></html>
